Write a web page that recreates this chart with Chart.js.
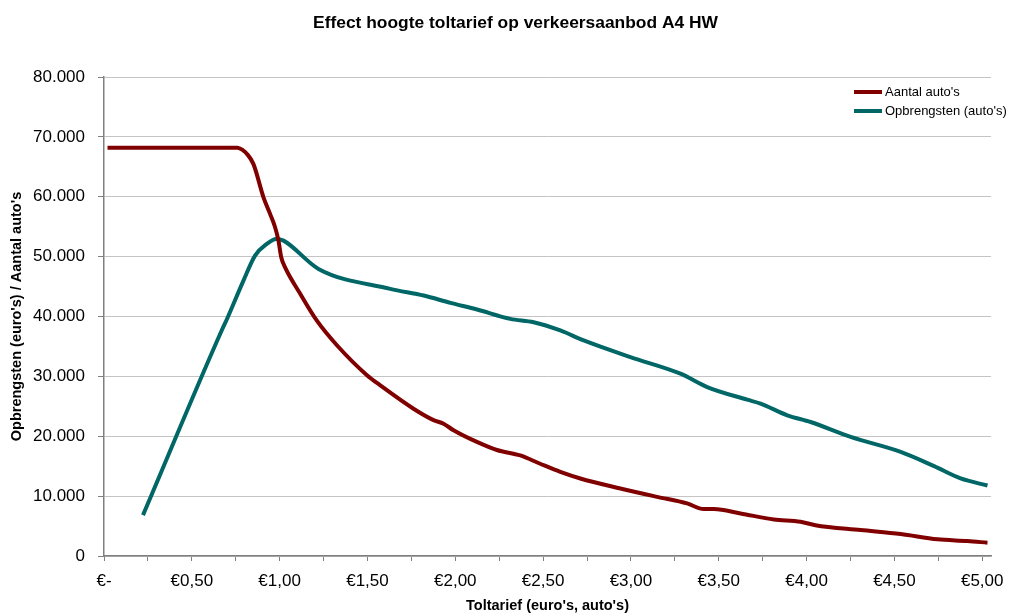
<!DOCTYPE html>
<html>
<head>
<meta charset="utf-8">
<script src="https://cdn.jsdelivr.net/npm/chart.js@4/dist/chart.umd.min.js"></script>
<style>
  body { margin: 0; background: #fff; }
  #wrap { width: 1019px; height: 615px; }
</style>
</head>
<body>
<div id="wrap"><canvas id="chart" width="1019" height="615"></canvas></div>
<script>
// Data
const aantalTarief = [0.02, 0.40, 0.76, 0.79, 0.813, 0.851, 0.908, 0.946, 0.974, 0.993, 1.009, 1.031, 1.117, 1.212, 1.326, 1.497, 1.573, 1.762, 1.876, 1.933, 1.990, 2.123, 2.237, 2.370, 2.480, 2.598, 2.712, 2.940, 3.149, 3.320, 3.415, 3.472, 3.624, 3.814, 3.966, 4.05, 4.308, 4.536, 4.745, 4.916, 5.03];
const aantalAutos = [68200, 68200, 68200, 67800, 67200, 65450, 59900, 57100, 54900, 52700, 49900, 48200, 43800, 39300, 35200, 30200, 28500, 24600, 22700, 22100, 21000, 19050, 17700, 16800, 15450, 14050, 12950, 11280, 9880, 8780, 7830, 7830, 7110, 6110, 5720, 5130, 4330, 3670, 2780, 2500, 2220];

const opbrTarief = [0.222, 0.670, 0.699, 0.794, 0.860, 0.927, 0.980, 1.022, 1.221, 1.630, 1.820, 1.972, 2.124, 2.313, 2.446, 2.598, 2.731, 2.997, 3.282, 3.434, 3.662, 3.738, 3.890, 4.023, 4.251, 4.536, 4.726, 4.877, 5.03];
const opbrengsten = [6830, 37670, 39500, 46000, 50170, 52120, 52950, 52670, 47950, 44620, 43500, 42280, 41170, 39610, 39050, 37670, 36000, 33220, 30450, 28220, 26110, 25450, 23500, 22380, 19880, 17380, 15000, 12950, 11780];

const xTicks = [0, 0.25, 0.5, 0.75, 1, 1.25, 1.5, 1.75, 2, 2.25, 2.5, 2.75, 3, 3.25, 3.5, 3.75, 4, 4.25, 4.5, 4.75, 5];
const seriesNames = ["Aantal auto's", "Opbrengsten (auto's)"];
const seriesColors = ['#800000', '#006666'];
const chartTitle = 'Effect hoogte toltarief op verkeersaanbod A4 HW';

const FONT = 'Liberation Sans, Arial, sans-serif';

function toPoints(xs, ys) {
    return xs.map((x, i) => ({ x: x, y: ys[i] }));
}

function formatThousands(v) {
    if (v === 0) return '0';
    return String(v).replace(/\B(?=(\d{3})+(?!\d))/g, '.');
}

function formatEuro(v) {
    if (Math.abs(v) < 1e-9) return '€-';
    if (Math.abs(v * 2 - Math.round(v * 2)) > 1e-9) return '';
    return '€' + v.toFixed(2).replace('.', ',');
}

// title (a bit right of centre, as in the original) and legend inside the plot
const extraText = {
    id: 'extraText',
    afterDraw(chart) {
        const ctx = chart.ctx;
        ctx.save();
        ctx.fillStyle = '#000';
        ctx.font = 'bold 17.4px ' + FONT;
        ctx.textAlign = 'center';
        ctx.textBaseline = 'middle';
        ctx.fillText(chartTitle, 515.5, 23.5);

        ctx.font = '13px ' + FONT;
        ctx.textAlign = 'left';
        chart.data.datasets.forEach((ds, i) => {
            const y = 92 + i * 19;
            ctx.strokeStyle = ds.borderColor;
            ctx.lineWidth = 4;
            ctx.beginPath();
            ctx.moveTo(854, y);
            ctx.lineTo(882, y);
            ctx.stroke();
            ctx.fillStyle = '#000';
            ctx.fillText(ds.label, 885, y);
        });
        ctx.restore();
    }
};

const ctx = document.getElementById('chart').getContext('2d');
new Chart(ctx, {
    type: 'line',
    data: {
        datasets: [
            {
                label: seriesNames[0],
                data: toPoints(aantalTarief, aantalAutos),
                borderColor: seriesColors[0],
                borderWidth: 4,
                pointRadius: 0,
                cubicInterpolationMode: 'monotone',
                fill: false
            },
            {
                label: seriesNames[1],
                data: toPoints(opbrTarief, opbrengsten),
                borderColor: seriesColors[1],
                borderWidth: 4,
                pointRadius: 0,
                cubicInterpolationMode: 'monotone',
                fill: false
            }
        ]
    },
    options: {
        responsive: false,
        animation: false,
        layout: { padding: { left: 0, right: 28, top: 77, bottom: 0 } },
        plugins: {
            legend: { display: false },
            tooltip: { enabled: false },
            title: { display: false }
        },
        scales: {
            x: {
                type: 'linear',
                min: 0,
                max: 5.05,
                afterBuildTicks: scale => {
                    scale.ticks = xTicks.map(v => ({ value: v }));
                },
                afterFit: scale => { scale.height = 59; },
                grid: {
                    drawOnChartArea: false,
                    drawTicks: true,
                    tickLength: 5,
                    tickColor: '#808080'
                },
                border: { color: '#808080', width: 1.5 },
                ticks: {
                    autoSkip: false,
                    maxRotation: 0,
                    padding: 10,
                    color: '#000',
                    font: { family: FONT, size: 17 },
                    callback: v => formatEuro(v)
                },
                title: {
                    display: true,
                    text: "Toltarief (euro's, auto's)",
                    color: '#000',
                    font: { family: FONT, size: 14.5, weight: 'bold' },
                    padding: { top: 0, bottom: 0.5 }
                }
            },
            y: {
                min: 0,
                max: 80000,
                afterFit: scale => { scale.width = 104; },
                grid: {
                    color: '#c4c4c4',
                    lineWidth: 1,
                    tickLength: 6,
                    tickColor: '#808080'
                },
                border: { color: '#808080', width: 1.5 },
                ticks: {
                    stepSize: 10000,
                    padding: 13,
                    color: '#000',
                    font: { family: FONT, size: 17 },
                    callback: v => formatThousands(v)
                },
                title: {
                    display: true,
                    text: "Opbrengsten (euro's) / Aantal auto's",
                    color: '#000',
                    font: { family: FONT, size: 14.5, weight: 'bold' },
                    padding: { top: 8, bottom: 0 }
                }
            }
        }
    },
    plugins: [extraText]
});
</script>
</body>
</html>
